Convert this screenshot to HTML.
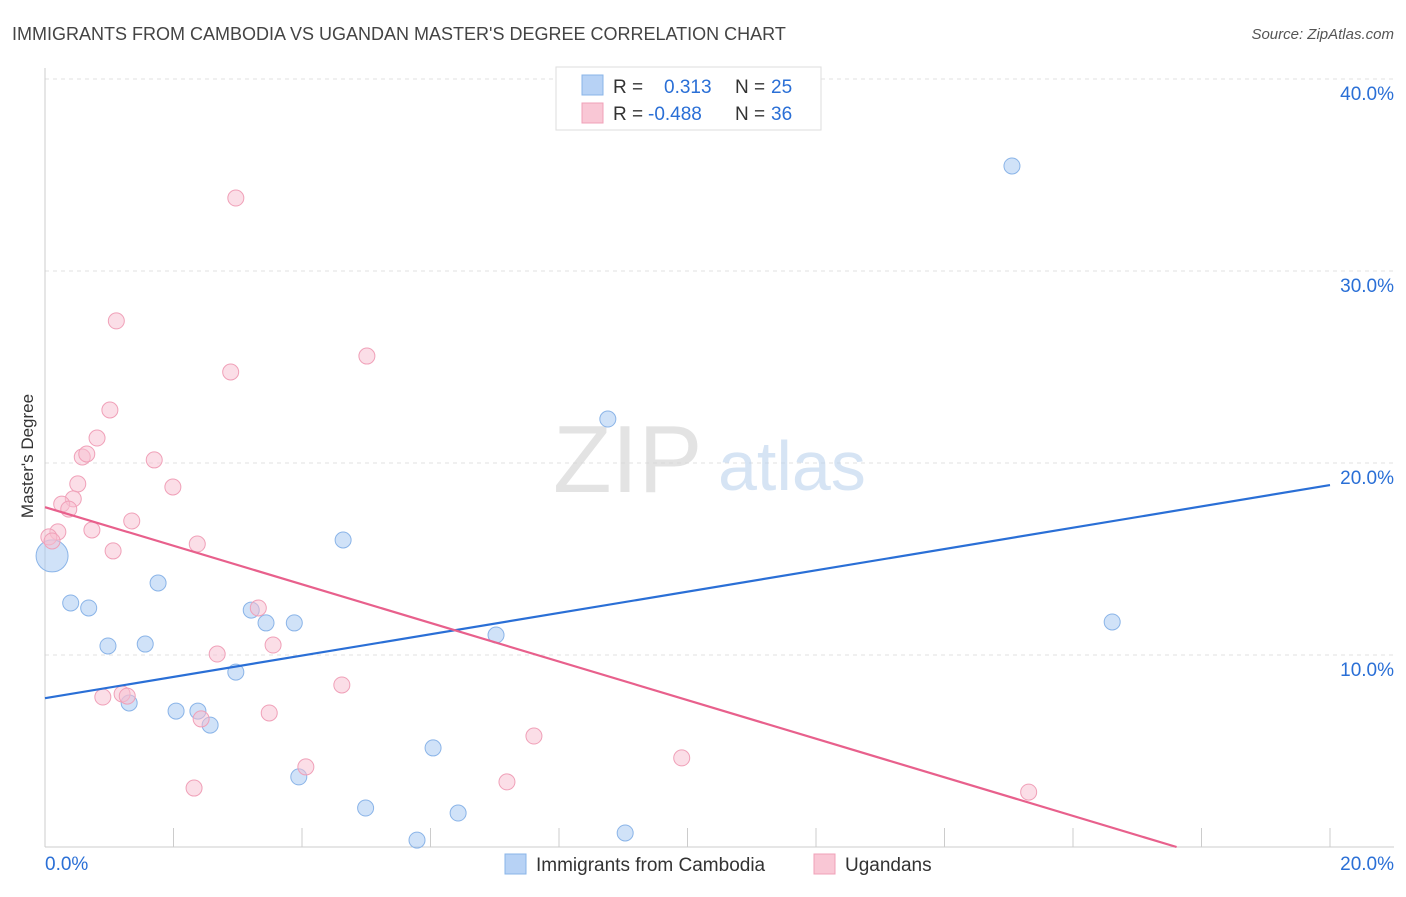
<!DOCTYPE html>
<html><head><meta charset="utf-8"><style>
body{margin:0;background:#fff;width:1406px;height:892px;overflow:hidden;font-family:"Liberation Sans",sans-serif}
svg text{font-family:"Liberation Sans",sans-serif}
</style></head><body>
<svg id="chart" width="1406" height="892" xmlns="http://www.w3.org/2000/svg">
<text x="12" y="40" font-size="18" fill="#444">IMMIGRANTS FROM CAMBODIA VS UGANDAN MASTER'S DEGREE CORRELATION CHART</text>
<text x="1394" y="39" font-size="15" fill="#555" font-style="italic" text-anchor="end">Source: ZipAtlas.com</text>
<g id="grid"></g>
<text x="553" y="492" font-size="96" fill="#d8d8d8" font-family="Liberation Serif" opacity="0.7">ZIP</text>
<text x="718" y="490" font-size="70" fill="#bcd3ee" opacity="0.6">atlas</text>
<g id="axes"></g>
<g id="points"></g>
<g id="lines"></g>
<text transform="translate(33,456) rotate(-90)" font-size="17" fill="#333" text-anchor="middle">Master's Degree</text>
<g>
<rect x="556" y="67" width="265" height="63" fill="#fff" stroke="#ddd"/>
<rect x="582" y="75" width="21" height="20" fill="#b7d2f5" stroke="#8ab4e8"/>
<rect x="582" y="103" width="21" height="20" fill="#f9c7d5" stroke="#f0a0b8"/>
<text x="613" y="93" font-size="19" fill="#333">R = </text><text x="664" y="93" font-size="19" fill="#2a6fd6">0.313</text>
<text x="735" y="93" font-size="19" fill="#333">N = </text><text x="771" y="93" font-size="19" fill="#2a6fd6">25</text>
<text x="613" y="120" font-size="19" fill="#333">R = </text><text x="648" y="120" font-size="19" fill="#2a6fd6">-0.488</text>
<text x="735" y="120" font-size="19" fill="#333">N = </text><text x="771" y="120" font-size="19" fill="#2a6fd6">36</text>
</g>
<g>
<rect x="505" y="854" width="21" height="20" fill="#b7d2f5" stroke="#8ab4e8"/>
<text x="536" y="871" font-size="19" fill="#333">Immigrants from Cambodia</text>
<rect x="814" y="854" width="21" height="20" fill="#f9c7d5" stroke="#f0a0b8"/>
<text x="845" y="871" font-size="19" fill="#333">Ugandans</text>
</g>
</svg>
<script>
const blueX=[0.11,0.40,0.68,0.98,1.56,1.76,1.31,2.04,2.38,2.57,2.97,3.21,3.44,3.88,3.95,4.64,4.99,5.79,6.04,6.43,7.02,8.76,9.03,15.05,16.61];
const blueY=[15.16,12.71,12.45,10.47,10.57,13.75,7.50,7.08,7.08,6.35,9.11,12.34,11.67,11.67,3.65,15.99,2.03,0.36,5.16,1.77,11.04,22.29,0.73,35.47,11.72];
const pinkX=[2.97,1.11,5.01,2.89,1.01,0.81,0.58,0.65,1.70,1.99,0.51,0.44,0.26,0.37,1.35,0.73,0.20,0.06,0.11,2.37,1.06,3.32,3.55,2.68,4.62,1.20,1.28,0.90,3.49,2.43,7.61,9.91,4.06,2.32,7.19,15.31];
const pinkY=[33.80,27.40,25.57,24.74,22.76,21.30,20.31,20.47,20.16,18.75,18.91,18.13,17.86,17.60,16.98,16.51,16.41,16.15,15.94,15.78,15.42,12.45,10.52,10.05,8.44,7.97,7.86,7.81,6.98,6.67,5.78,4.64,4.17,3.07,3.39,2.86];
const blueTrend=[7.75,18.85];
const pinkTrend=[17.7,-2.4];
const yTicks=[10,20,30,40];
const yTickLabels=["10.0%","20.0%","30.0%","40.0%"];
const xTickLabels=["0.0%","20.0%"];
const NS="http://www.w3.org/2000/svg";
const X=v=>45+v/20*1285, Y=v=>847-v*19.2;
function mk(t,a,p){const e=document.createElementNS(NS,t);for(const k in a)e.setAttribute(k,a[k]);p.appendChild(e);return e;}
const grid=document.getElementById('grid'),axes=document.getElementById('axes'),pts=document.getElementById('points'),lines=document.getElementById('lines');
yTicks.forEach((t,i)=>{
 const l=mk('line',{x1:45,x2:1394,y1:Y(t),y2:Y(t),stroke:'#e2e2e2','stroke-dasharray':'4,4'},grid);
 
 
 const tx=mk('text',{x:1394,y:Y(t)+21,'font-size':19,fill:'#2a6fd6','text-anchor':'end'},axes);
 tx.textContent=yTickLabels[i];
 
 
});
mk('line',{x1:45,x2:45,y1:68,y2:847,stroke:'#ccc'},axes);
mk('line',{x1:45,x2:1394,y1:847,y2:847,stroke:'#ccc'},axes);
for(let i=0;i<=10;i++){const t=mk('line',{x1:X(i*2),x2:X(i*2),y1:828,y2:847,stroke:'#ccc'},axes);
 
 }
[[0,45,'start'],[20,1394,'end']].forEach((d,i)=>{const t=mk('text',{x:d[1],y:870,'font-size':19,fill:'#2a6fd6','text-anchor':d[2]},axes);t.textContent=xTickLabels[i];
 
 });
blueX.forEach((x,i)=>{const c=mk('circle',{cx:X(x),cy:Y(blueY[i]),r:i===0?16:8,fill:'rgba(170,202,242,0.55)',stroke:'#8ab4e8','stroke-width':1},pts);
 
 });
pinkX.forEach((x,i)=>{const c=mk('circle',{cx:X(x),cy:Y(pinkY[i]),r:8,fill:'rgba(248,190,208,0.5)',stroke:'#f0a0b8','stroke-width':1},pts);
 
 });
const bl=mk('line',{x1:X(0),y1:Y(blueTrend[0]),x2:X(20),y2:Y(blueTrend[1]),stroke:'#2a6fd6','stroke-width':2.2},lines);


const xEnd=pinkTrend[0]/(pinkTrend[0]-pinkTrend[1])*20*(17.7/17.9);
const slope=(pinkTrend[1]-pinkTrend[0])/20, x0=-pinkTrend[0]/slope;
const pl=mk('line',{x1:X(0),y1:Y(pinkTrend[0]),x2:X(x0),y2:Y(0),stroke:'#e8608c','stroke-width':2.2},lines);


</script>
</body></html>
